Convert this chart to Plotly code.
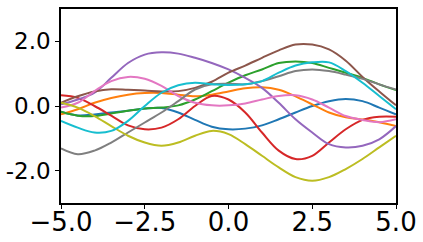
import plotly.graph_objects as go

x = [-5.0, -4.5, -4.0, -3.5, -3.0, -2.5, -2.0, -1.5, -1.0, -0.5, 0.0,
     0.5, 1.0, 1.5, 2.0, 2.5, 3.0, 3.5, 4.0, 4.5, 5.0]

blue = [-0.18, -0.29, -0.26, -0.20, -0.15, -0.08, -0.06, -0.20, -0.43, -0.64, -0.72,
        -0.70, -0.60, -0.41, -0.20, 0.00, 0.15, 0.22, 0.15, -0.05, -0.26]
orange = [-0.26, -0.10, 0.10, 0.25, 0.35, 0.40, 0.40, 0.35, 0.30, 0.35, 0.45,
          0.55, 0.58, 0.50, 0.30, 0.05, -0.20, -0.35, -0.42, -0.50, -0.62]
green = [-0.18, -0.30, -0.31, -0.23, -0.15, -0.08, -0.05, 0.02, 0.20, 0.46, 0.72,
         0.95, 1.13, 1.33, 1.38, 1.33, 1.18, 1.03, 0.87, 0.67, 0.49]
red = [0.33, 0.25, 0.00, -0.30, -0.60, -0.72, -0.67, -0.41, 0.00, 0.31, 0.20,
       -0.20, -0.82, -1.38, -1.64, -1.54, -1.13, -0.72, -0.43, -0.33, -0.33]
purple = [0.05, 0.20, 0.41, 0.87, 1.33, 1.59, 1.66, 1.62, 1.49, 1.33, 1.13,
          0.87, 0.56, 0.10, -0.41, -0.82, -1.18, -1.28, -1.23, -1.03, -0.62]
brown = [0.10, 0.30, 0.45, 0.52, 0.50, 0.48, 0.45, 0.46, 0.56, 0.75, 1.03,
         1.25, 1.49, 1.72, 1.90, 1.90, 1.75, 1.40, 0.90, 0.45, 0.02]
pink = [-0.05, 0.10, 0.46, 0.77, 0.90, 0.84, 0.62, 0.31, 0.10, 0.02, 0.02,
        0.08, 0.20, 0.31, 0.33, 0.20, -0.05, -0.31, -0.43, -0.50, -0.41]
gray = [-1.31, -1.49, -1.38, -1.13, -0.82, -0.51, -0.20, 0.15, 0.51, 0.67, 0.69,
        0.67, 0.77, 0.92, 1.08, 1.13, 1.08, 0.97, 0.84, 0.67, 0.51]
olive = [0.10, -0.05, -0.31, -0.62, -0.92, -1.13, -1.23, -1.13, -0.92, -0.77, -0.87,
         -1.18, -1.54, -1.90, -2.20, -2.31, -2.20, -1.95, -1.64, -1.28, -0.92]
cyan = [-0.46, -0.67, -0.82, -0.77, -0.46, 0.00, 0.41, 0.64, 0.72, 0.67, 0.65,
        0.67, 0.77, 1.03, 1.25, 1.35, 1.35, 1.08, 0.72, 0.31, -0.10]

series = [blue, orange, green, red, purple, brown, pink, gray, olive, cyan]
colors = ["#1f77b4", "#ff7f0e", "#2ca02c", "#d62728", "#9467bd",
          "#8c564b", "#e377c2", "#7f7f7f", "#bcbd22", "#17becf"]

x_ticks = [-5.0, -2.5, 0.0, 2.5, 5.0]
x_ticktext = ["\u22125.0", "\u22122.5", "0.0", "2.5", "5.0"]
y_ticks = [-2.0, 0.0, 2.0]
y_ticktext = ["-2.0", "0.0", "2.0"]

fig = go.Figure()
for ys, c in zip(series, colors):
    fig.add_trace(go.Scatter(x=x, y=ys, mode="lines",
                             line=dict(color=c, width=2, shape="spline", smoothing=1.0),
                             showlegend=False, hoverinfo="skip"))

fig.update_layout(
    width=423, height=242,
    margin=dict(l=61, r=27, t=9, b=39, autoexpand=False),
    paper_bgcolor="white", plot_bgcolor="white",
    font=dict(family="DejaVu Sans", color="black"),
)
fig.update_xaxes(range=[-5, 5], tickvals=x_ticks, ticktext=x_ticktext,
                 tickfont=dict(size=26), showgrid=False, zeroline=False,
                 automargin=False, ticklabelstandoff=-9,
                 showline=True, linecolor="black", linewidth=1.5, mirror=True,
                 ticks="outside", ticklen=4, tickwidth=1, tickcolor="black")
fig.update_yaxes(range=[-3, 3], tickvals=y_ticks, ticktext=y_ticktext,
                 tickfont=dict(size=23), showgrid=False, zeroline=False,
                 automargin=False,
                 showline=True, linecolor="black", linewidth=1.5, mirror=True,
                 ticks="outside", ticklen=4, tickwidth=1, tickcolor="black")

fig.write_html("out.html")
